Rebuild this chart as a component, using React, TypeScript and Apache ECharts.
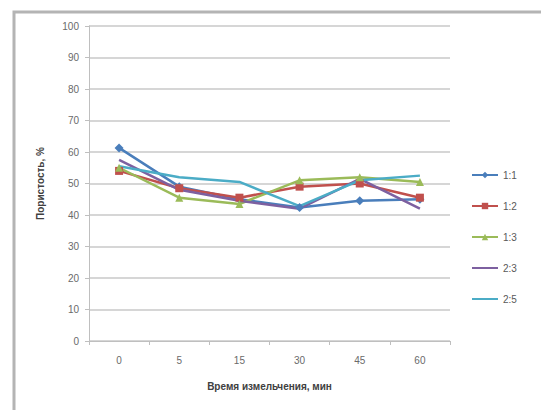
import React, { useEffect, useRef } from "react";
import * as echarts from "echarts";

const categories = ["0", "5", "15", "30", "45", "60"];
const s11 = [61.3, 49.0, 45.0, 42.4, 44.5, 45.0];
const s12 = [54.0, 48.5, 45.5, 49.0, 50.0, 45.5];
const s13 = [55.0, 45.5, 43.5, 51.0, 52.0, 50.5];
const s23 = [57.5, 48.0, 44.5, 42.0, 51.5, 42.0];
const s25 = [55.5, 52.0, 50.5, 42.8, 51.0, 52.5];
const seriesNames = ["1:1", "1:2", "1:3", "2:3", "2:5"];
const colors = ["#4a7ebb", "#c0504d", "#9bbb59", "#7d60a0", "#4bacc6"];

export default function App() {
  const ref = useRef<HTMLDivElement>(null);
  useEffect(() => {
    if (!ref.current) return;
    const chart = echarts.init(ref.current, null, { renderer: "svg" });
    const font = "'Liberation Sans', Arial, sans-serif";
    const mk = (name: string, data: number[], color: string, symbol: string, size: number) => ({
      name,
      type: "line",
      data,
      symbol,
      symbolSize: size,
      showSymbol: symbol !== "none",
      lineStyle: { color, width: 2.5 },
      itemStyle: { color },
      z: 3,
    });
    chart.setOption({
      animation: false,
      backgroundColor: "#ffffff",
      color: colors,
      graphic: [
        {
          type: "rect",
          shape: { x: 14, y: 12, width: 600, height: 500 },
          style: { fill: "none", stroke: "#b4b4b4", lineWidth: 3 },
          silent: true,
        },
      ],
      grid: { left: 89, right: 91, top: 26, bottom: 69 },
      legend: {
        orient: "vertical",
        left: 466,
        top: 165,
        itemWidth: 26,
        itemHeight: 8,
        itemGap: 21,
        textStyle: { fontFamily: font, fontSize: 10, color: "#595959" },
        data: [
          { name: seriesNames[0] },
          { name: seriesNames[1] },
          { name: seriesNames[2] },
          { name: seriesNames[3], itemStyle: { opacity: 0 } },
          { name: seriesNames[4], itemStyle: { opacity: 0 } },
        ],
      },
      xAxis: {
        type: "category",
        data: categories,
        boundaryGap: true,
        name: "Время измельчения, мин",
        nameLocation: "middle",
        nameGap: 40,
        nameTextStyle: { fontFamily: font, fontSize: 10, fontWeight: "bold", color: "#404040" },
        axisLine: { lineStyle: { color: "#bfbfbf" } },
        axisTick: { show: true, alignWithLabel: false, length: 4, lineStyle: { color: "#bfbfbf" } },
        axisLabel: { fontFamily: font, fontSize: 10, color: "#6a6a6a", margin: 14 },
      },
      yAxis: {
        type: "value",
        min: 0,
        max: 100,
        interval: 10,
        name: "Пористость, %",
        nameLocation: "middle",
        nameGap: 44,
        nameRotate: 90,
        nameTextStyle: { fontFamily: font, fontSize: 10, fontWeight: "bold", color: "#404040" },
        axisLine: { show: true, lineStyle: { color: "#bfbfbf" } },
        axisTick: { show: true, length: 4, lineStyle: { color: "#bfbfbf" } },
        axisLabel: { fontFamily: font, fontSize: 10, color: "#6a6a6a", margin: 10 },
        splitLine: { lineStyle: { color: "#c8c8c8", width: 1.5 } },
      },
      series: [
        mk(seriesNames[0], s11, colors[0], "diamond", 9),
        mk(seriesNames[1], s12, colors[1], "rect", 8),
        mk(seriesNames[2], s13, colors[2], "triangle", 8),
        mk(seriesNames[3], s23, colors[3], "none", 0),
        mk(seriesNames[4], s25, colors[4], "none", 0),
      ],
    });
    return () => chart.dispose();
  }, []);
  return (
    <div
      ref={ref}
      style={{ position: "absolute", left: 0, top: 0, width: 541, height: 410 }}
    />
  );
}
